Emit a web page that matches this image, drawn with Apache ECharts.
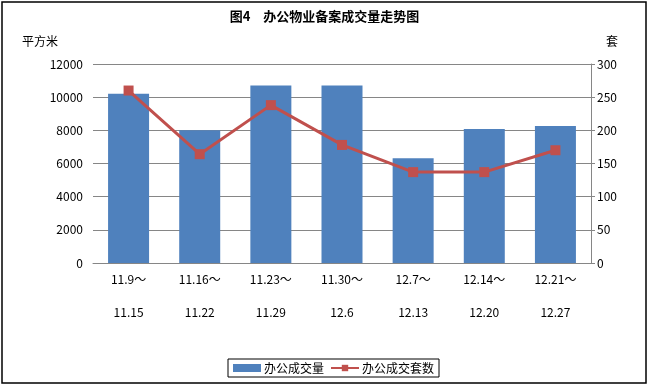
<!DOCTYPE html>
<html>
<head>
<meta charset="utf-8">
<script src="https://cdn.jsdelivr.net/npm/echarts@6/dist/echarts.min.js"></script>
<style>html,body{margin:0;padding:0;background:#fff}#c{width:649px;height:387px}</style>
</head>
<body>
<div id="c"></div>
<script>
var weekStart = ['11.9～','11.16～','11.23～','11.30～','12.7～','12.14～','12.21～'];
var weekEnd = ['11.15','11.22','11.29','12.6','12.13','12.20','12.27'];
var areaValues = [10200, 8000, 10700, 10700, 6320, 8080, 8260];
var unitValues = [260, 164, 238, 178, 137, 137, 170];
var leftTicks = [0, 2000, 4000, 6000, 8000, 10000, 12000];
var rightTicks = [0, 50, 100, 150, 200, 250, 300];
var titleText = '图4　办公物业备案成交量走势图';
var barName = '办公成交量';
var lineName = '办公成交套数';

var categories = weekStart.map(function(s, i){ return s + '\n' + weekEnd[i]; });
var FONT = '"Noto Sans CJK SC", sans-serif';
var chart = echarts.init(document.getElementById('c'), null, {renderer:'canvas'});
chart.setOption({
  animation: false,
  backgroundColor: '#fff',
  textStyle: {fontFamily: FONT},
  graphic: [
    {type:'rect', shape:{x:2, y:2, width:644, height:381}, style:{fill:null, stroke:'#000', lineWidth:1.5}, silent:true},
    {type:'text', left:'center', top:10, style:{text:titleText, font:'bold 13px ' + FONT, fill:'#000'}},
    {type:'text', left:22, top:35, style:{text:'平方米', font:'12px ' + FONT, fill:'#000'}},
    {type:'text', left:606, top:35, style:{text:'套', font:'12px ' + FONT, fill:'#000'}}
  ],
  legend: {
    left: 228, top: 359,
    padding: [3, 5],
    itemGap: 6,
    itemWidth: 28, itemHeight: 8,
    borderColor: '#000', borderWidth: 1,
    textStyle: {fontFamily: FONT, fontSize: 12, color: '#000', padding:[0,0,0,-2]},
    data: [
      {name: barName, icon: 'rect'},
      {name: lineName}
    ]
  },
  grid: {left: 93, right: 58, top: 64, bottom: 124},
  xAxis: {
    type: 'category',
    data: categories,
    axisLine: {show: true, lineStyle: {color: '#868686', width: 1}},
    axisTick: {show: false},
    axisLabel: {color:'#000', fontSize: 12, fontFamily: FONT, lineHeight: 33, margin: 0, interval: 0}
  },
  yAxis: [
    {
      type: 'value', min: 0, max: 12000, interval: 2000,
      axisLine: {show: false}, axisTick: {show: false},
      axisLabel: {color:'#000', fontSize: 12, fontFamily: FONT, margin: 10,
        formatter: function(v){ return String(v); }},
      splitLine: {show: true, lineStyle: {color: '#868686', width: 1}}
    },
    {
      type: 'value', min: 0, max: 300, interval: 50, position: 'right',
      axisLine: {show: true, lineStyle: {color: '#868686', width: 1}},
      axisTick: {show: true, length: 4, lineStyle: {color: '#868686'}},
      axisLabel: {color:'#000', fontSize: 12, fontFamily: FONT, margin: 6,
        formatter: function(v){ return String(v); }},
      splitLine: {show: false}
    }
  ],
  series: [
    {
      name: barName, type: 'bar', yAxisIndex: 0,
      data: areaValues,
      barWidth: 41,
      itemStyle: {color: '#4F81BD'}
    },
    {
      name: lineName, type: 'line', yAxisIndex: 1,
      data: unitValues,
      symbol: 'rect', symbolSize: 10,
      lineStyle: {color: '#C0504D', width: 3},
      itemStyle: {color: '#C0504D'}
    }
  ]
});
</script>
</body>
</html>
